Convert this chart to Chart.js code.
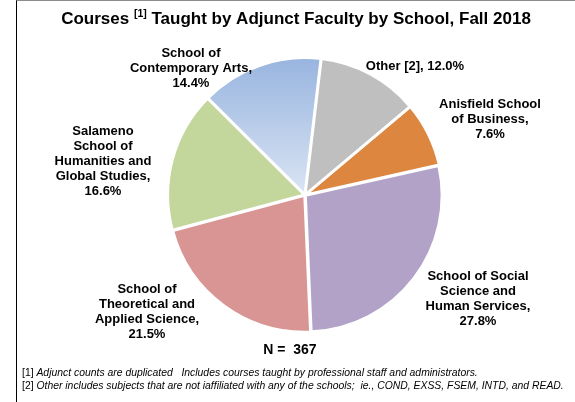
<!DOCTYPE html>
<html>
<head>
<meta charset="utf-8">
<script src="https://cdn.jsdelivr.net/npm/chart.js@4.4.0/dist/chart.umd.min.js"></script>
<style>
  html, body { margin: 0; padding: 0; background: #fff; }
  #frame { position: absolute; left: 16px; top: 0; width: 559px; height: 402px;
           border-left: 1px solid #000; border-top: 1px solid #8c8c8c; box-sizing: border-box; }
  #wrap { position: absolute; left: 0; top: 0; width: 575px; height: 402px; }
</style>
</head>
<body>
<div id="frame"></div>
<div id="wrap"><canvas id="pie" width="575" height="402"></canvas></div>
<script>
// Data (percent of adjunct-taught courses)
const schools = [
    'Anisfield School of Business',
    'School of Social Science and Human Services',
    'School of Theoretical and Applied Science',
    'Salameno School of Humanities and Global Studies',
    'School of Contemporary Arts',
    'Other [2]'
];
const shares = [7.6, 27.8, 21.5, 16.6, 14.4, 12.0];
const labelLines = [
    ['Anisfield School', 'of Business,'],
    ['School of Social', 'Science and', 'Human Services,'],
    ['School of', 'Theoretical and', 'Applied Science,'],
    ['Salameno', 'School of', 'Humanities and', 'Global Studies,'],
    ['School of', 'Contemporary Arts,'],
    ['Other [2],']
];
const totalCourses = 367;
const footnotes = [
    ['[1] ', 'Adjunct counts are duplicated   Includes courses taught by professional staff and administrators.'],
    ['[2] ', 'Other includes subjects that are not iaffiliated with any of the schools;  ie., COND, EXSS, FSEM, INTD, and READ.']
];

// Styling / layout
const sliceColors = ['#DC8640', '#B2A2C7', '#D99594', '#C3D69B', '#A9C0E4', '#BFBFBF'];
// label anchor (first line centre) relative to the pie centre, px
const labelOffsets = [[185, -91], [173, 81], [-158, 94], [-202, -64], [-114, -142], [110, -129]];
const LABEL_FONT = 'bold 13px "Liberation Sans", Arial, sans-serif';
const LINE_H = 15;

const textPlugin = {
    id: 'texts',
    afterDraw(chart) {
        const ctx = chart.ctx;
        const arc = chart.getDatasetMeta(0).data[0];
        const cx = arc.x, cy = arc.y;
        ctx.save();
        ctx.fillStyle = '#000';
        ctx.textBaseline = 'middle';

        // slice labels
        ctx.font = LABEL_FONT;
        ctx.textAlign = 'center';
        labelLines.forEach((lines, i) => {
            const pct = shares[i].toFixed(1) + '%';
            const all = lines.length === 1 ? [lines[0] + ' ' + pct] : [...lines, pct];
            const [dx, dy] = labelOffsets[i];
            all.forEach((t, k) => ctx.fillText(t, cx + dx, cy + dy + k * LINE_H));
        });

        // title with superscript
        const big = 'bold 17px "Liberation Sans", Arial, sans-serif';
        const sup = 'bold 10.5px "Liberation Sans", Arial, sans-serif';
        const p1 = 'Courses ', p2 = '[1]', p3 = ' Taught by Adjunct Faculty by School, Fall 2018';
        ctx.font = big; const w1 = ctx.measureText(p1).width, w3 = ctx.measureText(p3).width;
        ctx.font = sup; const w2 = ctx.measureText(p2).width;
        let x = 296 - (w1 + w2 + w3) / 2;
        ctx.textAlign = 'left';
        ctx.font = big; ctx.fillText(p1, x, 19); x += w1;
        ctx.font = sup; ctx.fillText(p2, x, 14); x += w2;
        ctx.font = big; ctx.fillText(p3, x, 19);

        // N
        ctx.font = 'bold 14px "Liberation Sans", Arial, sans-serif';
        ctx.textAlign = 'center';
        ctx.fillText('N =  ' + totalCourses, 290, 350);

        // footnotes
        ctx.textAlign = 'left';
        footnotes.forEach(([tag, txt], k) => {
            const y = 373 + k * 13;
            ctx.font = '10.4px "Liberation Sans", Arial, sans-serif';
            ctx.fillText(tag, 22, y);
            const tw = ctx.measureText(tag).width;
            ctx.font = 'italic 10.4px "Liberation Sans", Arial, sans-serif';
            ctx.fillText(txt, 22 + tw, y);
        });
        ctx.restore();
    }
};

new Chart(document.getElementById('pie').getContext('2d'), {
    type: 'pie',
    data: {
        labels: schools,
        datasets: [{
            data: shares,
            backgroundColor: (c) => {
                if (c.dataIndex !== 4) return sliceColors[c.dataIndex];
                const area = c.chart.chartArea;
                if (!area) return sliceColors[4];
                const g = c.chart.ctx.createLinearGradient(0, area.top, 0, (area.top + area.bottom) / 2);
                g.addColorStop(0, '#97B4DF');
                g.addColorStop(1, '#DAE4F3');
                return g;
            },
            borderColor: '#fff',
            borderWidth: 2.5,
            offset: 3
        }]
    },
    options: {
        responsive: false,
        animation: false,
        rotation: 50,
        layout: { padding: { left: 166, top: 56, right: 131, bottom: 68 } },
        plugins: {
            legend: { display: false },
            tooltip: { enabled: false },
            title: { display: false }
        }
    },
    plugins: [textPlugin]
});
</script>
</body>
</html>
